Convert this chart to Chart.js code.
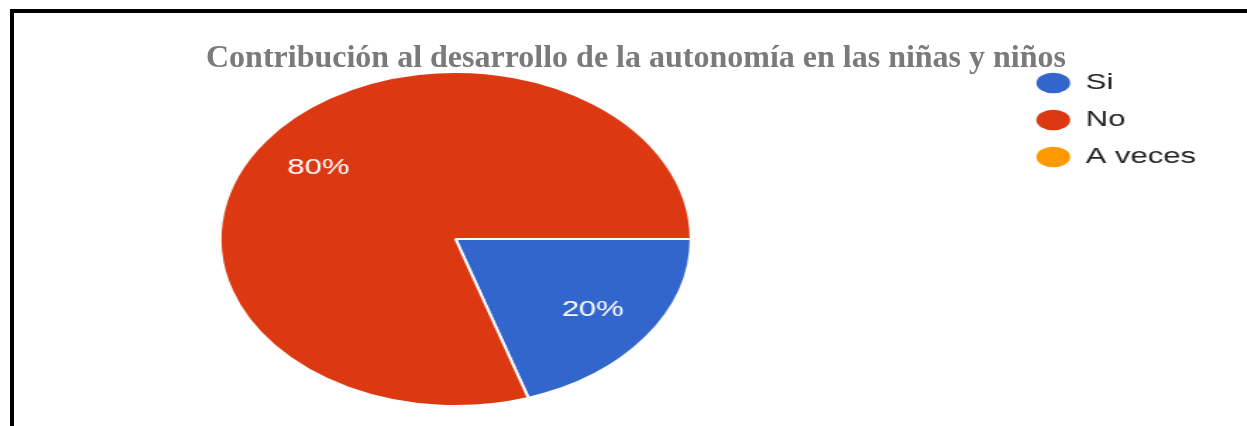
<!DOCTYPE html>
<html>
<head>
<meta charset="utf-8">
<script src="https://cdn.jsdelivr.net/npm/chart.js@4/dist/chart.umd.min.js"></script>
<style>
  html, body { margin: 0; padding: 0; background: #fff; width: 1247px; height: 426px; overflow: hidden; position: relative; }
  #frame { position: absolute; left: 10px; top: 9px; width: 1400px; height: 600px; border-top: 4px solid #000; border-left: 4px solid #000; box-sizing: border-box; z-index: 3; pointer-events: none; }
  #title { position: absolute; left: 206px; top: 40px; font: bold 32px "Liberation Serif", "Times New Roman", serif; line-height: 32px; color: #7a7a7a; white-space: nowrap; z-index: 2; }
  #wrap { position: absolute; left: -104px; top: 0; width: 932px; height: 426px; transform: scaleX(1.41); transform-origin: 0 0; z-index: 1; }
</style>
</head>
<body>
<div id="frame"></div>
<div id="wrap"><canvas id="c" width="932" height="426"></canvas></div>
<div id="title">Contribución al desarrollo de la autonomía en las niñas y niños</div>
<script>
const titleText = "Contribución al desarrollo de la autonomía en las niñas y niños";
const categories = ["Si", "No", "A veces"];
const values = [20, 80, 0];
const colors = ["#3366cc", "#dc3912", "#ff9900"];

const sliceLabels = {
  id: 'sliceLabels',
  afterDatasetsDraw(chart) {
    const ctx = chart.ctx;
    const meta = chart.getDatasetMeta(0);
    const data = chart.data.datasets[0].data;
    const total = data.reduce((a, b) => a + b, 0);
    ctx.save();
    ctx.fillStyle = '#ffffff';
    ctx.font = '22px "Liberation Sans", Arial, sans-serif';
    ctx.textAlign = 'center';
    ctx.textBaseline = 'middle';
    meta.data.forEach((arc, i) => {
      if (!data[i]) return;
      const p = arc.getProps(['x', 'y', 'startAngle', 'endAngle', 'outerRadius'], true);
      const mid = (p.startAngle + p.endAngle) / 2;
      const r = p.outerRadius * 0.72;
      const pct = Math.round(data[i] / total * 100) + '%';
      ctx.fillText(pct, p.x + Math.cos(mid) * r, p.y + Math.sin(mid) * r);
    });
    ctx.restore();
  }
};

Chart.defaults.font.family = '"Liberation Sans", Arial, sans-serif';
new Chart(document.getElementById('c'), {
  type: 'pie',
  data: {
    labels: categories,
    datasets: [{
      data: values,
      backgroundColor: colors,
      borderColor: '#ffffff',
      borderWidth: 2,
      radius: 167
    }]
  },
  options: {
    responsive: false,
    animation: false,
    devicePixelRatio: 1,
    rotation: 90,
    layout: { padding: { top: 57, bottom: 5, left: 0, right: 0 } },
    plugins: {
      title: { display: false, text: titleText },
      tooltip: { enabled: false },
      legend: {
        position: 'right',
        align: 'start',
        labels: {
          usePointStyle: true,
          pointStyle: 'circle',
          pointStyleWidth: 24,
          boxHeight: 14.5,
          padding: 15,
          color: '#222222',
          font: { size: 22 },
          generateLabels(chart) {
            return Chart.overrides.pie.plugins.legend.labels.generateLabels(chart).map(l => Object.assign(l, { lineWidth: 0, strokeStyle: l.fillStyle }));
          }
        }
      }
    }
  },
  plugins: [sliceLabels]
});
</script>
</body>
</html>
